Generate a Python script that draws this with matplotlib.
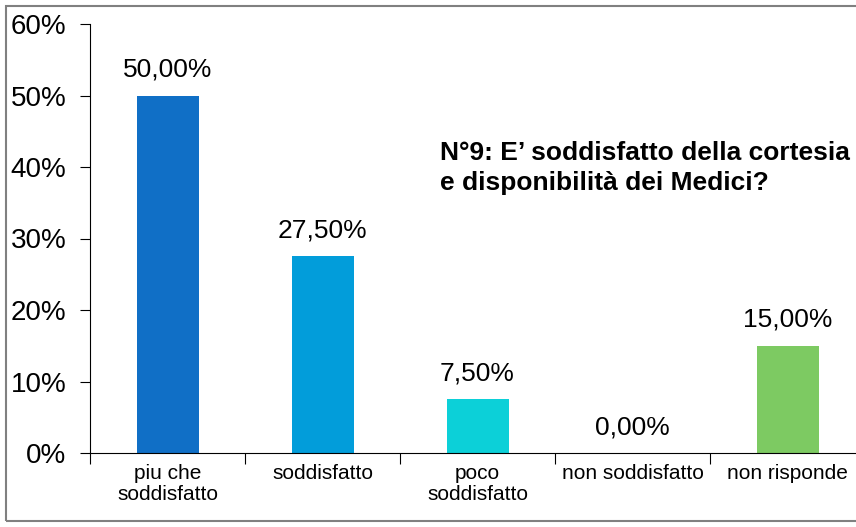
import matplotlib
matplotlib.use('Agg')
import matplotlib.pyplot as plt
from matplotlib.patches import Rectangle
import numpy as np

plt.rcParams['font.family'] = ['Liberation Sans', 'DejaVu Sans']

categories = ['piu che\nsoddisfatto', 'soddisfatto', 'poco\nsoddisfatto',
              'non soddisfatto', 'non risponde']
values = [50.0, 27.5, 7.5, 0.0, 15.0]
value_labels = ['50,00%', '27,50%', '7,50%', '0,00%', '15,00%']
colors = ['#106fc6', '#029dda', '#0cd0d8', '#0cd0d8', '#7dca62']
title = 'N°9: E\u2019 soddisfatto della cortesia\ne disponibilità dei Medici?'

W, H = 856, 527
fig = plt.figure(figsize=(W / 100, H / 100), dpi=100)

# axes: y axis at x=90, 0% at y=453, 60% at y=24, category step ~155px
left = 90 / W
bottom = (H - 453) / H
top = (H - 24) / H
width = 155 * 5 / W
ax = fig.add_axes([left, bottom, width, top - bottom])

x = np.arange(len(categories))
ax.bar(x, values, width=0.4, color=colors)
ax.set_xlim(-0.5, 4.5)
ax.set_ylim(0, 60)

for xi, v, lab in zip(x, values, value_labels):
    ax.annotate(lab, (xi, v), xytext=(0, 10), textcoords='offset points',
                ha='center', va='bottom', fontsize=19)

ax.set_yticks(np.arange(0, 61, 10))
ax.set_yticklabels([f'{t}%' for t in range(0, 61, 10)], fontsize=20)
ax.set_xticks(np.arange(-0.5, 4.6, 1.0))
ax.set_xticklabels([])
ax.set_xticks(x, minor=True)
ax.set_xticklabels(categories, minor=True, fontsize=15, linespacing=1.12)
ax.tick_params(axis='x', which='minor', length=0, pad=8)
ax.tick_params(axis='x', which='major', length=8, direction='out', width=0.8)
ax.tick_params(axis='y', length=7, direction='out', width=0.8, pad=10)

for s in ['top', 'right']:
    ax.spines[s].set_visible(False)
ax.spines['left'].set_linewidth(0.8)
ax.spines['bottom'].set_linewidth(0.8)

fig.text(440 / W, 1 - 141 / H, title, ha='left', va='top',
         fontsize=19, fontweight='bold', linespacing=1.3)

# outer frame
fig.patches.append(Rectangle((6 / W, 6 / H), 1.0, 1 - 12 / H,
                             transform=fig.transFigure, fill=False,
                             edgecolor='#808080', linewidth=1.5))

fig.savefig('out.png', dpi=100)
